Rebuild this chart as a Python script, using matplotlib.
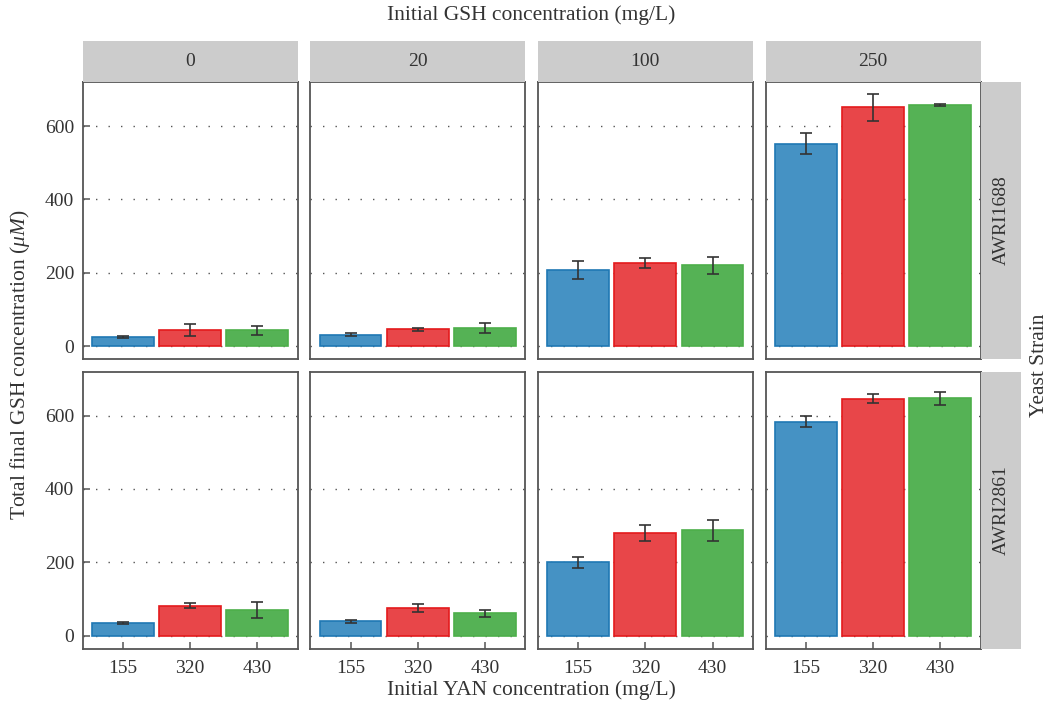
import numpy as np
import matplotlib
matplotlib.use("Agg")
import matplotlib.pyplot as plt

plt.rcParams['font.family'] = ['Liberation Serif', 'DejaVu Serif']
plt.rcParams['mathtext.fontset'] = 'custom'
plt.rcParams['mathtext.rm'] = 'Liberation Serif'
plt.rcParams['mathtext.it'] = 'Liberation Serif:italic'
plt.rcParams['font.size'] = 14

# data
strains = ["AWRI1688", "AWRI2861"]
gsh_levels = ["0", "20", "100", "250"]
yan_levels = ["155", "320", "430"]

# mean total final GSH (uM) [gsh][yan]
means_1688 = [[24.5, 43.5, 43.5],
              [31, 46, 49],
              [207, 227, 221],
              [552, 651, 657]]
err_1688 = [[2, 16, 12],
            [4, 4, 14],
            [24, 14, 23],
            [29, 36, 2]]
means_2861 = [[34.5, 82, 70],
              [39, 75, 61],
              [200, 279, 287],
              [583, 646, 647]]
err_2861 = [[3.5, 6, 21],
            [4.5, 10, 10],
            [15, 22, 28],
            [15, 12, 18]]

fill_colors = ['#4592C4', '#E84649', '#55B255']
edge_colors = ['#1F78B4', '#E41A1C', '#4DAF4A']
txt = '#333333'
tick_fs = 14
label_fs = 15.5

W, H = 1050, 707
fig = plt.figure(figsize=(W / 100, H / 100), dpi=100)


def px_axes(x0, y0, w, h):
    """axes from pixel box (top-left origin)"""
    return fig.add_axes([x0 / W, 1 - (y0 + h) / H, w / W, h / H])


lefts = [82.5, 310.2, 537.9, 765.6]
pw = 215
tops = [82, 371.5]
ph = 277

all_means = [means_1688, means_2861]
all_errs = [err_1688, err_2861]
x = np.arange(len(yan_levels))

for r, strain in enumerate(strains):
    for c, gsh in enumerate(gsh_levels):
        ax = px_axes(lefts[c], tops[r], pw, ph)
        ax.bar(x, all_means[r][c], width=0.92, color=fill_colors,
               edgecolor=edge_colors, linewidth=1.2, zorder=2,
               yerr=all_errs[r][c],
               error_kw=dict(ecolor=txt, elinewidth=1.2, capsize=4.5, capthick=1.2, zorder=3))
        ax.set_xlim(-0.6, 2.6)
        ax.set_ylim(-35, 720)
        ax.set_yticks([0, 200, 400, 600])
        ax.yaxis.grid(True, linestyle=(0, (1, 8)), color='#555555', linewidth=1.0)
        ax.set_axisbelow(True)
        for sp in ax.spines.values():
            sp.set_color('#555555')
            sp.set_linewidth(1.3)
        ax.tick_params(direction='in', length=5, width=1.1, color='#555555',
                       labelcolor=txt, labelsize=tick_fs)
        ax.set_xticks(x)
        if r == 1:
            ax.set_xticklabels(yan_levels)
            ax.tick_params(axis='x', pad=8)
        else:
            ax.tick_params(axis='x', length=0, labelbottom=False)
        if c == 0:
            ax.tick_params(axis='y', pad=6)
        else:
            ax.tick_params(axis='y', length=0, labelleft=False)

        # top strips
        if r == 0:
            sa = px_axes(lefts[c], 41, pw, 41)
            sa.set_facecolor('#CCCCCC')
            sa.set_xticks([])
            sa.set_yticks([])
            for sp in sa.spines.values():
                sp.set_visible(False)
            sa.text(0.5, 0.5, gsh, ha='center', va='center', color=txt,
                    fontsize=tick_fs, transform=sa.transAxes)

    # right strips
    sa = px_axes(980.6, tops[r], 40.5, ph)
    sa.set_facecolor('#CCCCCC')
    sa.set_xticks([])
    sa.set_yticks([])
    for sp in sa.spines.values():
        sp.set_visible(False)
    sa.text(0.5, 0.5, strain, ha='center', va='center', rotation=90,
            color=txt, fontsize=tick_fs, transform=sa.transAxes)

fig.text(531 / W, 1 - 15 / H, "Initial GSH concentration (mg/L)", ha='center',
         va='center', color=txt, fontsize=label_fs)
fig.text(531 / W, 1 - 690 / H, "Initial YAN concentration (mg/L)", ha='center',
         va='center', color=txt, fontsize=label_fs)
fig.text(20 / W, 1 - 365 / H, r"Total final GSH concentration ($\mu M$)", ha='center',
         va='center', rotation=90, color=txt, fontsize=label_fs)
fig.text(1040 / W, 1 - 365 / H, "Yeast Strain", ha='center', va='center',
         rotation=90, color=txt, fontsize=label_fs)

fig.savefig("out.png", dpi=100, facecolor='white')
